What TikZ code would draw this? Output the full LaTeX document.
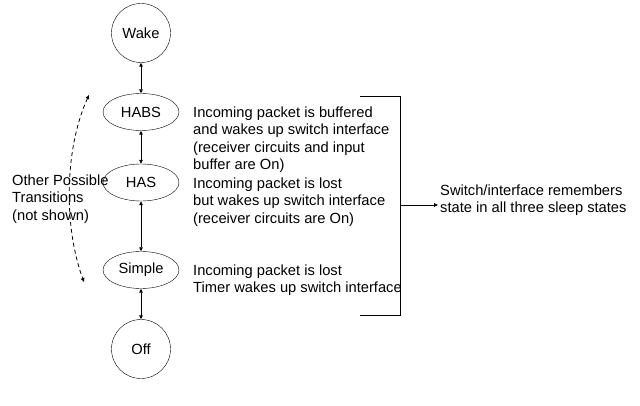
\documentclass[tikz,border=0pt]{standalone}
\usepackage{fontspec}
\setmainfont{Liberation Sans}
\usetikzlibrary{arrows.meta,shapes.geometric}

\begin{document}
\begin{tikzpicture}[x=1pt,y=-1pt,>={Triangle[length=4pt,width=3.5pt]},every node/.style={font=\fontsize{14.7pt}{17.5pt}\selectfont,inner sep=0pt},
st/.style={draw,circle,minimum size=59pt},el/.style={draw,ellipse,minimum width=76pt,minimum height=37pt},
a/.style={<->,line width=.8pt},txt/.style={align=left,anchor=north west}]
\useasboundingbox (0,0) rectangle (640,406);
% states
\node[st] (wake) at (141,33) {Wake};\node[el] (habs) at (141,112) {HABS};\node[el] (has) at (141,182.5) {HAS};
\node[el] (simple) at (141,270) {Simple};\node[st] (off) at (141,349) {Off};
\draw[a] (wake)--(habs);\draw[a] (habs)--(has);\draw[a] (has)--(simple);\draw[a] (simple)--(off);
% descriptions
\node[txt] (dhabs) at (193,106.5) {Incoming packet is buffered\\and wakes up switch interface\\(receiver circuits and input\\buffer are On)};
\node[txt] (dhas) at (193,177.5) {Incoming packet is lost\\but wakes up switch interface\\(receiver circuits are On)};
\node[txt] (dsimple) at (193,264.5) {Incoming packet is lost\\Timer wakes up switch interface};
% other transitions
\coordinate (ot) at (89,95);\coordinate (ob) at (84,282);
\draw[<->,line width=.8pt,dash pattern=on 4pt off 3pt] (ot) .. controls (64,150) and (64,228) .. (ob);
\node[txt] (other) at (12,174.5) {Other Possible\\Transitions\\(not shown)};
% bracket
\coordinate (bt) at (360,96);\coordinate (br1) at (400,96);\coordinate (br2) at (400,315);\coordinate (bb) at (360,315);
\coordinate (bm) at (400,205);\coordinate (tip) at (438,205);
\draw[line width=.8pt] (bt)--(br1)--(br2)--(bb);
\draw[->,line width=.8pt] (bm)--(tip);
\node[txt] (note) at (440,184.5) {Switch/interface remembers\\state in all three sleep states};
\end{tikzpicture}
\end{document}
